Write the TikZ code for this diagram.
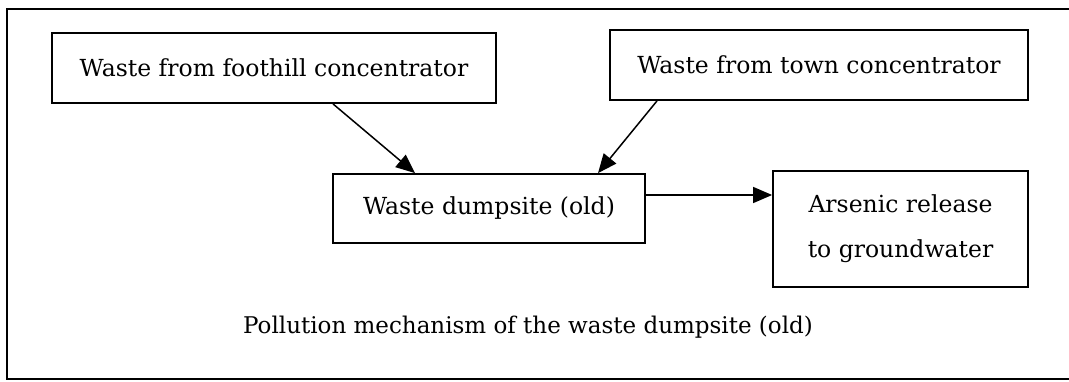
\documentclass[tikz,border=0pt]{standalone}
\usepackage{fontspec}
\setmainfont{DejaVu Serif}
\usepackage{tikz}
\usetikzlibrary{arrows.meta,positioning,calc}

\tikzset{
    box/.style={draw, line width=1.8pt, inner sep=0pt, align=center,
        font=\fontsize{23.5}{28}\selectfont},
    flow/.style={line width=1.5pt, -{Triangle[length=19pt,width=16pt]}},
    frame/.style={line width=1.8pt}
}

\begin{document}
\begin{tikzpicture}[x=1pt,y=1pt]
    \useasboundingbox (0,0) rectangle (1069,381);
    % Outer frame (right side cut off)
    \draw[frame] (1069,372) -- (7,372) -- (7,2) -- (1069,2);

    % Sources
    \node[box, minimum width=444pt, minimum height=70pt] (foothill) at (274,313)
        {Waste from foothill concentrator};
    \node[box, minimum width=418pt, minimum height=70pt] (town) at (819,316)
        {Waste from town concentrator};

    % Dumpsite and release
    \node[box, minimum width=312pt, minimum height=69pt] (dump) at (489,172.5)
        {Waste dumpsite (old)};
    \node[box, minimum width=255pt, minimum height=116pt] (arsenic) at (900.5,152)
        {Arsenic release\\[17pt]to groundwater};

    % Arrows
    \draw[flow] ([xshift=59pt]foothill.south) -- ([xshift=-74pt]dump.north);
    \draw[flow] ([xshift=-162pt]town.south) -- ([xshift=109pt]dump.north);
    \draw[flow] ([yshift=13.5pt]dump.east) -- ([yshift=13.5pt]dump.east -| arsenic.west);

    % Caption
    \node[font=\fontsize{23}{28}\selectfont] (caption) at (528,54)
        {Pollution mechanism of the waste dumpsite (old)};
\end{tikzpicture}
\end{document}
